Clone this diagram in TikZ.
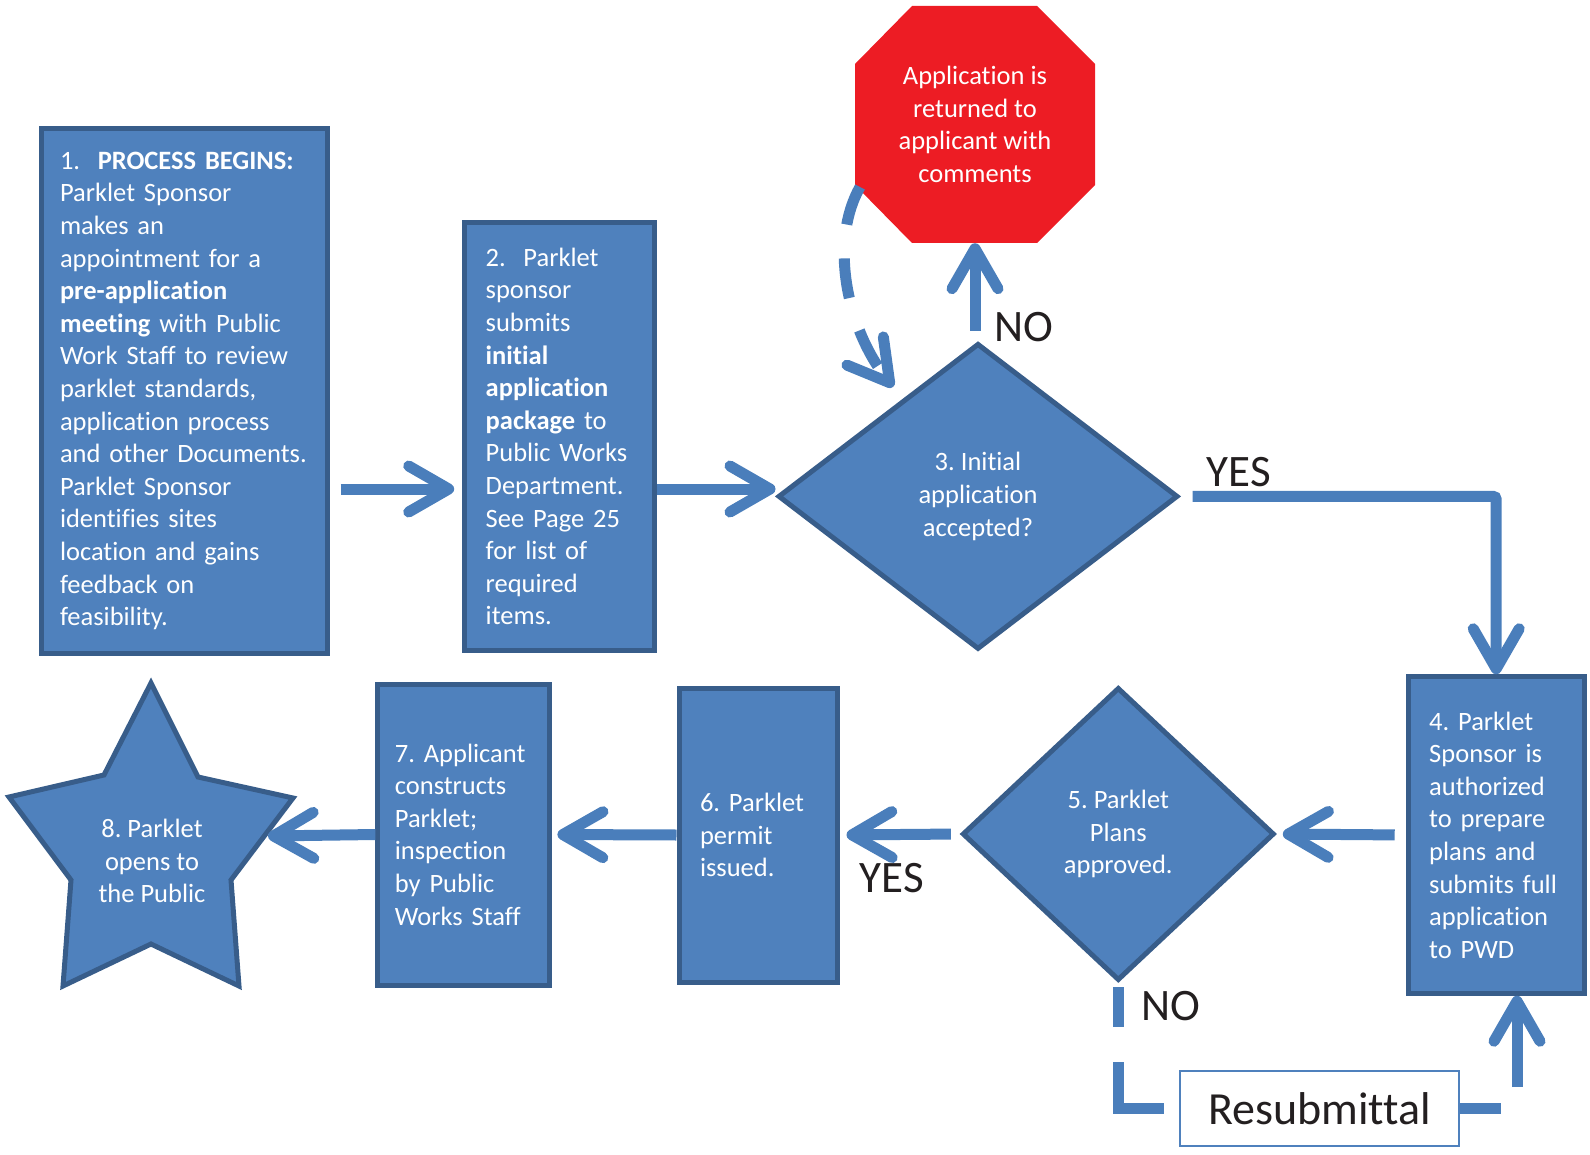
\documentclass[tikz,border=0pt]{standalone}
\usepackage{fontspec}
\setmainfont{Carlito}[Ligatures=NoCommon]
\usetikzlibrary{shapes.geometric, arrows.meta}
\frenchspacing

\definecolor{boxblue}{HTML}{4F81BD}
\definecolor{edgeblue}{HTML}{385D8A}
\definecolor{arrowblue}{HTML}{4A7EBB}
\definecolor{stopred}{HTML}{ED1C24}
\definecolor{labelgray}{HTML}{231F20}

\begin{document}
\begin{tikzpicture}[x=1pt, y=-1pt, wt/.style={text=white, font=\fontsize{26.5}{32.6}\selectfont}, bx/.style={wt, rectangle, draw=edgeblue, fill=boxblue, line width=5pt, align=left}, dc/.style={wt, diamond, draw=edgeblue, fill=boxblue, line width=5pt, align=center, inner sep=0pt}, ar/.style={draw=arrowblue, line width=11pt, -{Straight Barb[length=40pt, width=46pt, round]}}, ln/.style={draw=arrowblue, line width=11pt}, lb/.style={text=labelgray, font=\fontsize{45}{54}\selectfont, inner sep=0pt}]
		\useasboundingbox (0,0) rectangle (1590,1155);

		\fill[stopred] (912,6) -- (1037,6) -- (1095,64) -- (1095,185) -- (1037,243) -- (912,243) -- (855,185) -- (855,64) -- cycle;
		\node[wt, align=center, minimum width=240pt, minimum height=237pt] (R) at (975,124.5) {Application is\\returned to\\applicant with\\comments};

		\draw[edgeblue, fill=boxblue, line width=5pt] (151,683) -- (198,777) -- (293,798) -- (231,880) -- (239,986) -- (151,944) -- (63,986) -- (71,880) -- (9,797) -- (104,775) -- cycle;
		\node[wt, align=center] (S8) at (152,861) {8. Parklet\\opens to\\the Public};

		\node[bx, minimum height=524pt, text width=248pt, inner xsep=19pt] (S1) at (184,391) {1.\ \ \textbf{PROCESS BEGINS:}\\Parklet Sponsor\\makes an\\appointment for a\\\textbf{pre-application}\\\textbf{meeting} with Public\\Work Staff to review\\parklet standards,\\application process\\and other Documents.\\Parklet Sponsor\\identifies sites\\location and gains\\feedback on\\feasibility.};
		\node[bx, minimum height=428pt, text width=148pt, inner xsep=21pt] (S2) at (559.7,436.5) {2.\ \ Parklet\\sponsor\\submits\\\textbf{initial}\\\textbf{application}\\\textbf{package} to\\Public Works\\Department.\\See Page 25\\for list of\\required\\items.};
		\node[dc, minimum width=400pt, minimum height=306pt] (D3) at (978,496.4) {3. Initial\\application\\accepted?};
		\node[bx, minimum height=316.5pt, text width=134pt, inner xsep=21pt] (S4) at (1496.2,835) {4. Parklet\\Sponsor is\\authorized\\to prepare\\plans and\\submits full\\application\\to PWD};
		\node[dc, minimum width=312pt, minimum height=293pt] (D5) at (1118.3,834) {5. Parklet\\Plans\\approved.};
		\node[bx, minimum height=294pt, text width=116pt, inner xsep=21pt] (S6) at (758,835) {6. Parklet\\permit\\issued.};
		\node[bx, minimum height=301pt, text width=138pt, inner xsep=17pt] (S7) at (463.9,834.5) {7. Applicant\\constructs\\Parklet;\\inspection\\by Public\\Works Staff};
		\node[draw=boxblue, line width=2pt, fill=white, minimum width=279pt, minimum height=75pt, text=labelgray, font=\fontsize{46}{55}\selectfont] (Re) at (1319.7,1108.5) {Resubmittal};

		\node[lb] (D3_no) at (1024,327) {NO};
		\node[lb] (D3_yes) at (1239,472.5) {YES};
		\node[lb] (D5_yes) at (892,878) {YES};
		\node[lb] (D5_no) at (1171,1006) {NO};

		\coordinate (row1) at (0,489);
		\coordinate (ret_a) at (860,187);
		\coordinate (ret_b) at (893,387);
		\coordinate (S8_in) at (268,836);
		\coordinate (low) at (0,1062);
		\coordinate (up) at (1517,1087);

		\draw[ar, shorten <=11pt, shorten >=8pt] (S1.east |- row1) -- (S2.west |- row1);
		\draw[ar] (S2.east |- row1) -- (D3.west |- row1);
		\draw[ar, shorten <=10pt] (D3.north -| R.south) -- (R.south);
		\draw[ar, dash pattern=on 40pt off 34pt] (ret_a) .. controls (830,240) and (845,325) .. (ret_b);
		\draw[ar, rounded corners=3pt, shorten <=12pt] (D3.east) -| (S4.north);
		\draw[ar, shorten <=11pt, shorten >=6pt] (S4.west) -- (D5.east);
		\draw[ar, shorten <=9pt, shorten >=7pt] (D5.west) -- (S6.east);
		\draw[ar, shorten >=5pt] (S6.west) -- (S7.east);
		\draw[ar] (S7.west) -- (S8_in);

		\draw[ln] ([yshift=-4pt]D5.south) -- ++(0,40);
		\draw[ln, shorten >=15pt] (D5.south |- low) |- (Re.west);
		\draw[ln] (Re.east) -- ++(41,0);
		\draw[ar] (up) -- (up |- S4.south);
	\end{tikzpicture}
\end{document}
